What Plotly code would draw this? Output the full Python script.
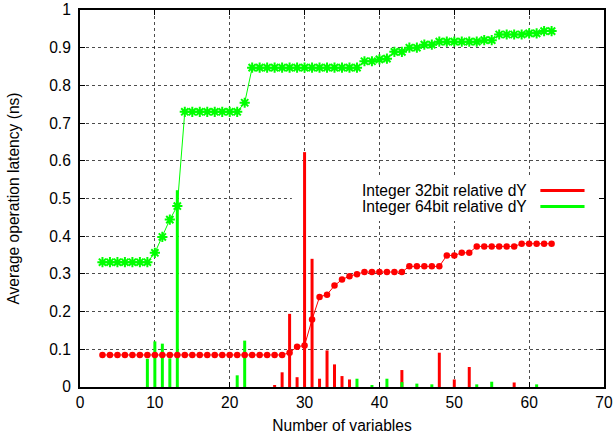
import plotly.graph_objects as go

# ---- data ----
n_vars = [3, 4, 5, 6, 7, 8, 9, 10, 11, 12, 13, 14, 15, 16, 17, 18, 19, 20, 21, 22,
          23, 24, 25, 26, 27, 28, 29, 30, 31, 32, 33, 34, 35, 36, 37, 38, 39, 40, 41, 42,
          43, 44, 45, 46, 47, 48, 49, 50, 51, 52, 53, 54, 55, 56, 57, 58, 59, 60, 61, 62, 63]

lat32 = [0.085, 0.085, 0.085, 0.085, 0.085, 0.085, 0.085, 0.085, 0.085, 0.085,
         0.085, 0.085, 0.085, 0.085, 0.085, 0.085, 0.085, 0.085, 0.085, 0.085,
         0.085, 0.085, 0.085, 0.085, 0.085, 0.091, 0.107, 0.110, 0.179, 0.239,
         0.245, 0.269, 0.285, 0.294, 0.299, 0.305, 0.305, 0.305, 0.305, 0.305,
         0.305, 0.320, 0.320, 0.320, 0.320, 0.320, 0.349, 0.349, 0.356, 0.356,
         0.373, 0.373, 0.373, 0.373, 0.373, 0.373, 0.380, 0.380, 0.380, 0.380, 0.380]

lat64 = [0.331, 0.331, 0.331, 0.331, 0.331, 0.331, 0.331, 0.356, 0.398, 0.444,
         0.480, 0.730, 0.730, 0.730, 0.730, 0.730, 0.730, 0.730, 0.730, 0.754,
         0.847, 0.847, 0.847, 0.847, 0.847, 0.847, 0.847, 0.847, 0.847, 0.847,
         0.847, 0.847, 0.847, 0.847, 0.847, 0.864, 0.864, 0.869, 0.871, 0.889,
         0.889, 0.900, 0.900, 0.908, 0.908, 0.916, 0.916, 0.916, 0.916, 0.916,
         0.916, 0.920, 0.920, 0.935, 0.935, 0.935, 0.935, 0.938, 0.938, 0.944, 0.944]

dy32_x = [26, 27, 28, 29, 30, 31, 32, 33, 34, 35, 36, 43, 48, 50, 52, 58]
dy32_y = [0.004, 0.039, 0.194, 0.026, 0.623, 0.340, 0.022, 0.097, 0.060, 0.029,
          0.020, 0.045, 0.091, 0.020, 0.053, 0.012]

dy64_x = [9, 10, 11, 12, 13, 21, 22, 37, 39, 41, 43, 45, 47, 53, 55, 61]
dy64_y = [0.075, 0.121, 0.115, 0.076, 0.522, 0.031, 0.123, 0.022, 0.005, 0.022,
          0.013, 0.009, 0.007, 0.007, 0.014, 0.007]

legend_labels = ["Integer 32bit relative dY", "Integer 64bit relative dY"]
x_ticks = [0, 10, 20, 30, 40, 50, 60, 70]

RED = "#ff0000"
GREEN = "#00ff00"
FONT = "Liberation Sans, Arial, sans-serif"
FS = 15.6

fig = go.Figure()

fig.add_trace(go.Bar(x=dy32_x, y=dy32_y, width=0.4, marker=dict(color=RED, line=dict(width=0)),
                     name=legend_labels[0], showlegend=False))
fig.add_trace(go.Bar(x=dy64_x, y=dy64_y, width=0.4, marker=dict(color=GREEN, line=dict(width=0)),
                     name=legend_labels[1], showlegend=False))
fig.add_trace(go.Scatter(x=n_vars, y=lat64, mode="lines+markers",
                         line=dict(color=GREEN, width=1),
                         marker=dict(symbol="asterisk-open", size=8.5, color=GREEN,
                                     line=dict(color=GREEN, width=2)),
                         showlegend=False))
fig.add_trace(go.Scatter(x=n_vars, y=lat32, mode="lines+markers",
                         line=dict(color=RED, width=1),
                         marker=dict(symbol="circle", size=6.5, color=RED),
                         showlegend=False))

# opaque key box (gnuplot-style), drawn between gridlines and traces
fig.add_shape(type="rect", xref="x", yref="y", x0=28.3, x1=70, y0=0.44, y1=0.56,
              fillcolor="white", line=dict(width=0), layer="between")

# key entries: text right-aligned, sample line to its right
key_y = [0.521, 0.479]
key_col = [RED, GREEN]
for lab, ky, col in zip(legend_labels, key_y, key_col):
    fig.add_annotation(x=60, y=ky, xref="x", yref="y", text=lab, showarrow=False,
                       xanchor="right", yanchor="middle",
                       font=dict(family=FONT, size=FS, color="black"))
    fig.add_shape(type="line", xref="x", yref="y", x0=61.5, x1=67.4, y0=ky, y1=ky,
                  line=dict(color=col, width=3), layer="above")

axis_common = dict(
    showline=True, linecolor="black", linewidth=2, mirror="ticks",
    ticks="inside", ticklen=5, tickwidth=1, tickcolor="black",
    showgrid=True, gridcolor="rgba(0,0,0,0.7)", griddash="dot", gridwidth=1,
    zeroline=False, tickfont=dict(family=FONT, size=FS, color="black"),
)

fig.update_xaxes(range=[0, 70], tickvals=x_ticks, layer="below traces",
                 title=dict(text="Number of variables", font=dict(family=FONT, size=FS, color="black"),
                            standoff=10),
                 ticklabelstandoff=0,
                 **axis_common)
fig.update_yaxes(range=[0, 1], dtick=0.1,
                 title=dict(text="Average operation latency (ns)", font=dict(family=FONT, size=FS, color="black"),
                            standoff=26),
                 ticklabelstandoff=4,
                 **axis_common)

fig.update_layout(
    width=615, height=439,
    margin=dict(l=80, r=11, t=10, b=52, autoexpand=False),
    plot_bgcolor="white", paper_bgcolor="white",
    barmode="overlay", showlegend=False,
    font=dict(family=FONT, size=FS, color="black"),
)

fig.write_html("out.html")
